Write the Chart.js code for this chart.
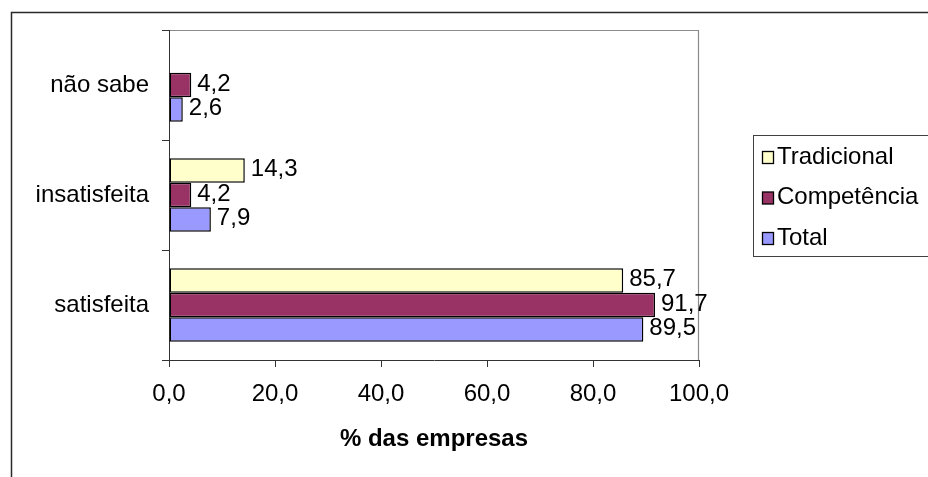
<!DOCTYPE html>
<html>
<head>
<meta charset="utf-8">
<script src="https://cdn.jsdelivr.net/npm/chart.js@4/dist/chart.umd.min.js"></script>
<style>
  html, body { margin: 0; padding: 0; background: #fff; }
  #wrap { width: 928px; height: 477px; position: relative; }
</style>
</head>
<body>
<div id="wrap"><canvas id="c" width="928" height="477"></canvas></div>
<script>
// Satisfação das empresas, por tipo de gestão (% das empresas)
const categories = ['não sabe', 'insatisfeita', 'satisfeita'];
const seriesNames = ['Tradicional', 'Competência', 'Total'];
const tradicional = [null, 14.3, 85.7];
const competencia = [4.2, 4.2, 91.7];
const total = [2.6, 7.9, 89.5];
const xTicks = [0, 20, 40, 60, 80, 100];
const axisTitle = '% das empresas';

const seriesColors = ['#FFFFCC', '#993366', '#9999FF'];
const FONT = "'Liberation Sans', Arial, sans-serif";
const TEXT_SIZE = 24;

const fmt = v => v.toFixed(1).replace('.', ',');

// Outer frame and the grey top/right edges of the plot area
const framePlugin = {
  id: 'frame',
  beforeDraw(chart) {
    const { ctx, chartArea: a } = chart;
    ctx.save();
    ctx.fillStyle = '#fff';
    ctx.fillRect(0, 0, chart.width, chart.height);
    ctx.strokeStyle = '#2a2a2a';
    ctx.lineWidth = 1.5;
    ctx.beginPath();
    ctx.moveTo(11.5, chart.height + 2);
    ctx.lineTo(11.5, 12.5);
    ctx.lineTo(chart.width + 2, 12.5);
    ctx.stroke();
    ctx.strokeStyle = '#8a8a8a';
    ctx.lineWidth = 1.2;
    ctx.beginPath();
    ctx.moveTo(a.left, a.top + 0.5);
    ctx.lineTo(a.right - 0.5, a.top + 0.5);
    ctx.lineTo(a.right - 0.5, a.bottom);
    ctx.stroke();
    ctx.restore();
  }
};

// Value labels to the right of each bar
const valueLabels = {
  id: 'valueLabels',
  afterDatasetsDraw(chart) {
    const { ctx } = chart;
    ctx.save();
    ctx.font = TEXT_SIZE + 'px ' + FONT;
    ctx.fillStyle = '#000';
    ctx.textAlign = 'left';
    ctx.textBaseline = 'middle';
    chart.data.datasets.forEach((ds, i) => {
      const meta = chart.getDatasetMeta(i);
      meta.data.forEach((el, j) => {
        const v = ds.data[j];
        if (v === null || v === undefined) return;
        ctx.fillText(fmt(v), el.x + 6, el.y - 1);
      });
    });
    ctx.restore();
  }
};

// Boxed legend on the right
const boxLegend = {
  id: 'boxLegend',
  afterDraw(chart) {
    const { ctx } = chart;
    const x0 = 753.5, y0 = 135.5, h = 121;
    ctx.save();
    ctx.strokeStyle = '#404040';
    ctx.lineWidth = 1;
    ctx.strokeRect(x0, y0, chart.width - x0 + 10, h);
    ctx.font = TEXT_SIZE + 'px ' + FONT;
    ctx.textAlign = 'left';
    ctx.textBaseline = 'middle';
    chart.data.datasets.forEach((ds, i) => {
      const cy = 157 + i * 40.5;
      ctx.fillStyle = ds.backgroundColor;
      ctx.fillRect(762.5, cy - 5.5, 11, 12);
      ctx.strokeStyle = '#000';
      ctx.lineWidth = 1.3;
      ctx.strokeRect(762.5, cy - 5.5, 11, 12);
      ctx.fillStyle = '#000';
      ctx.fillText(ds.label, 777, cy);
    });
    ctx.restore();
  }
};

const seriesData = [tradicional, competencia, total];

new Chart(document.getElementById('c'), {
  type: 'bar',
  data: {
    labels: categories,
    datasets: seriesNames.map((name, i) => ({
      label: name,
      data: seriesData[i],
      backgroundColor: seriesColors[i],
      borderColor: '#000',
      borderWidth: 1.5,
      borderSkipped: false,
      categoryPercentage: 0.667,
      barPercentage: 1
    }))
  },
  options: {
    indexAxis: 'y',
    responsive: false,
    animation: false,
    devicePixelRatio: 1,
    layout: { padding: { left: 0, top: 30, right: 229, bottom: 0 } },
    plugins: {
      legend: { display: false },
      title: { display: false },
      tooltip: { enabled: false }
    },
    scales: {
      x: {
        type: 'linear',
        min: 0,
        max: 100,
        afterBuildTicks(scale) {
          scale.ticks = xTicks.map(v => ({ value: v }));
        },
        afterFit(scale) {
          scale.height = 117;
          scale.paddingLeft = 0;
          scale.paddingRight = 0;
        },
        grid: {
          display: true,
          drawOnChartArea: false,
          drawTicks: true,
          tickLength: 7,
          color: '#333'
        },
        border: { display: true, color: '#333', width: 1 },
        ticks: {
          color: '#000',
          font: { family: FONT, size: TEXT_SIZE },
          padding: 13,
          maxRotation: 0,
          callback: v => fmt(v)
        },
        title: {
          display: true,
          text: axisTitle,
          color: '#000',
          font: { family: FONT, size: 24, weight: 'bold' },
          padding: { top: 0, bottom: 23 }
        }
      },
      y: {
        type: 'category',
        afterFit(scale) {
          scale.width = 169;
          scale.paddingTop = 0;
          scale.paddingBottom = 0;
        },
        grid: {
          display: true,
          offset: true,
          drawOnChartArea: false,
          drawTicks: true,
          tickLength: 7,
          color: '#333'
        },
        border: { display: true, color: '#333', width: 1 },
        ticks: {
          color: '#000',
          font: { family: FONT, size: TEXT_SIZE },
          padding: 13
        }
      }
    }
  },
  plugins: [framePlugin, valueLabels, boxLegend]
});
</script>
</body>
</html>
